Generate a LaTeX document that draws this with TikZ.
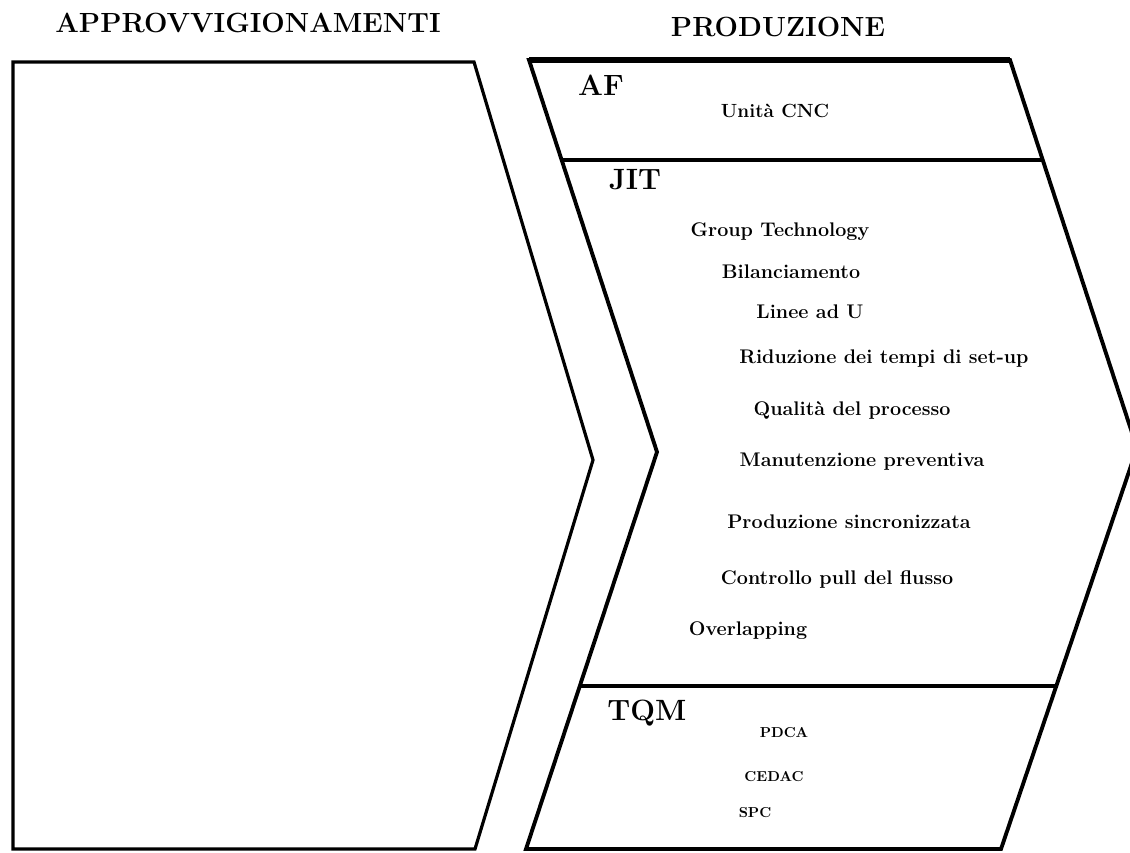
\documentclass[tikz,border=0pt]{standalone}
\begin{document}
\begin{tikzpicture}[x=0.75pt,y=-0.75pt,
  edge/.style={line width=2.4pt, line join=miter, line cap=butt},
  heavy/.style={line width=3.8pt},
  title/.style={font=\fontsize{20.8}{25}\selectfont\bfseries, anchor=base, inner sep=0pt},
  sect/.style={font=\fontsize{22}{26}\selectfont\bfseries, anchor=base, inner sep=0pt},
  item/.style={font=\fontsize{14.8}{17}\selectfont\bfseries, anchor=base, inner sep=0pt},
  minor/.style={font=\fontsize{10.8}{13}\selectfont\bfseries, anchor=base, inner sep=0pt}]
\useasboundingbox (0,0) rectangle (1130,852);
\fill[white] (0,0) rectangle (1130,852);

% column headings
\node[title] (hA) at (248,33) {APPROVVIGIONAMENTI};
\node[title] (hP) at (778,37) {PRODUZIONE};

% left chevron (procurement)
\coordinate (aTL) at (13,62);
\coordinate (aTR) at (474,62);
\coordinate (aTip) at (593,460);
\coordinate (aBR) at (475,849);
\coordinate (aBL) at (13,849);
\draw[edge] (aTL) -- (aTR) -- (aTip) -- (aBR) -- (aBL) -- cycle;

% right chevron (production)
\coordinate (pTL) at (529,60);
\coordinate (pTR) at (1010,60);
\coordinate (pTip) at (1137,448);
\coordinate (pBR) at (1001,849);
\coordinate (pBL) at (526,849);
\coordinate (pL) at (657,452);
\draw[edge, line width=2.9pt] (pTL) -- (pTR) -- (pTip) -- (pBR) -- (pBL) -- (pL) -- cycle;
\draw[heavy] (pTL) -- (pTR);

% band dividers
\coordinate (d1L) at (561.6,160);
\coordinate (d1R) at (1042.7,160);
\coordinate (d2L) at (580,686);
\coordinate (d2R) at (1056.5,686);
\draw[edge] (d1L) -- (d1R);
\draw[edge] (d2L) -- (d2R);

% AF band
\node[sect] (af) at (601,96) {AF};
\node[item, font=\fontsize{14.3}{17}\selectfont\bfseries] (cnc) at (775,118) {Unità CNC};

% JIT band
\node[sect] (jit) at (635,190) {JIT};
\node[item] (gt)  at (780,236) {Group Technology};
\node[item] (bil) at (791,278) {Bilanciamento};
\node[item] (lin) at (810,318) {Linee ad U};
\node[item] (rid) at (884,363) {Riduzione dei tempi di set-up};
\node[item] (qua) at (852,415) {Qualità del processo};
\node[item] (man) at (862,466) {Manutenzione preventiva};
\node[item] (sin) at (849,528) {Produzione sincronizzata};
\node[item] (pul) at (837,584) {Controllo pull del flusso};
\node[item] (ovl) at (748,635) {Overlapping};

% TQM band
\node[sect] (tqm) at (647,720) {TQM};
\node[minor] (pdca)  at (784,737) {PDCA};
\node[minor] (cedac) at (774,781) {CEDAC};
\node[minor] (spc)   at (755,817) {SPC};
\end{tikzpicture}
\end{document}
